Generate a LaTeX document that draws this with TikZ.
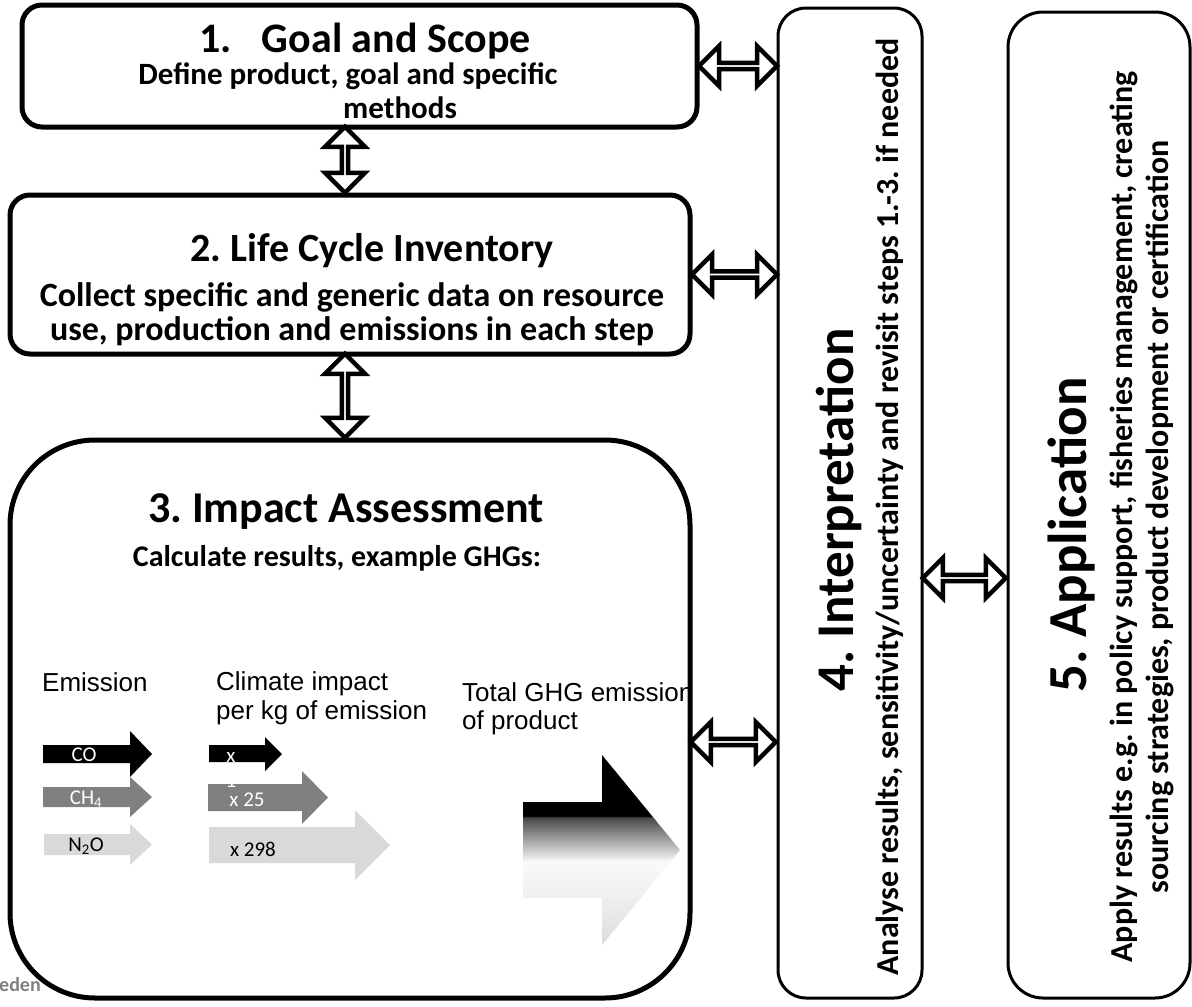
\documentclass[tikz,border=0pt]{standalone}
\usepackage{fontspec}
\setmainfont{Carlito}
\newfontfamily\arialfont{Liberation Sans}
\usetikzlibrary{shapes.arrows}
\frenchspacing

\pgfdeclareverticalshading{ghgshade}{100bp}{color(0bp)=(black!14); color(25bp)=(black!14); color(38bp)=(black!6); color(47bp)=(black!2); color(49bp)=(black!15); color(55bp)=(black!50); color(58.5bp)=(black!72); color(59bp)=(black); color(100bp)=(black)}

\definecolor{midgray}{HTML}{808080}
\definecolor{lightgray}{HTML}{D9D9D9}

\tikzset{
  stagebox/.style={draw, line width=5pt, rounded corners=20pt, inner sep=0pt},
  sidebox/.style={draw, line width=3pt, rounded corners=28pt, inner sep=0pt},
  bigtitle/.style={font=\bfseries\fontsize{40}{44}\selectfont, inner sep=0pt, anchor=base},
  subtitle/.style={font=\bfseries\fontsize{31}{36}\selectfont, inner sep=0pt, anchor=base},
  sidetitle/.style={font=\bfseries\fontsize{53}{58}\selectfont, inner sep=0pt, rotate=90, anchor=base},
  sidetext/.style={font=\bfseries\fontsize{32}{36}\selectfont, inner sep=0pt, rotate=90, anchor=base},
  hlink/.style={double arrow, draw, fill=white, line width=4.5pt, inner sep=0pt,
    minimum width=40pt, double arrow head extend=12pt, double arrow head indent=0pt},
  vlink/.style={hlink, shape border rotate=90},
  plain/.style={font=\arialfont\fontsize{26}{30}\selectfont, inner sep=0pt, anchor=base west},
  tag/.style={font=\fontsize{21}{24}\selectfont, inner sep=0pt},
}

\begin{document}
\begin{tikzpicture}[x=1pt, y=-1pt]
  \useasboundingbox (0,0) rectangle (1192,1007);

  % the five stages
  \node[stagebox, minimum width=675, minimum height=122] (goal) at (359.5,66) {};
  \node[stagebox, minimum width=680, minimum height=159] (inventory) at (350,274.5) {};
  \node[stagebox, rounded corners=85pt, minimum width=680, minimum height=558] (impact) at (350,719) {};
  \node[sidebox, minimum width=144, minimum height=990] (interp) at (850,503) {};
  \node[sidebox, rounded corners=35pt, minimum width=182, minimum height=986] (appl) at (1099,505) {};

  % stage texts
  \node[bigtitle, font=\bfseries\fontsize{42}{46}\selectfont] (goaltitle) at (365,52) {1.\hspace{30pt}Goal and Scope};
  \node[subtitle] (goaltext) at (348,84) {Define product, goal and specific};
  \node[subtitle] (goalmore) at (400,118) {methods};
  \node[bigtitle] (invtitle) at (372,261) {2. Life Cycle Inventory};
  \node[subtitle, font=\bfseries\fontsize{34}{38}\selectfont] (invtexta) at (352,306) {Collect specific and generic data on resource};
  \node[subtitle, font=\bfseries\fontsize{34}{38}\selectfont] (invtextb) at (352,340) {use, production and emissions in each step};
  \node[bigtitle, font=\bfseries\fontsize{44}{48}\selectfont] (imptitle) at (346,522) {3. Impact Assessment};
  \node[subtitle, font=\bfseries\fontsize{30}{34}\selectfont] (imptext) at (337,566) {Calculate results, example GHGs:};
  \node[sidetitle] (inttitle) at (853,510) {4. Interpretation};
  \node[sidetext] (inttext) at (898,507) {Analyse results, sensitivity/uncertainty and revisit steps 1.-3. if needed};
  \node[sidetitle, font=\bfseries\fontsize{55}{60}\selectfont] (apptitle) at (1086,535) {5. Application};
  \node[sidetext] (apptexta) at (1132,517) {Apply results e.g. in policy support, fisheries management, creating};
  \node[sidetext] (apptextb) at (1168,517) {sourcing strategies, product development or certification};

  % GHG example
  \node[plain] (emis) at (42,691) {Emission};
  \node[plain] (climA) at (216,690) {Climate impact};
  \node[plain] (climB) at (216,719) {per kg of emission};
  \begin{scope}
    \clip (impact.north west) rectangle (impact.south east);
    \node[plain] (totA) at (462,701) {Total GHG emission};
    \node[plain] (totB) at (462,729) {of product};
  \end{scope}

  \fill[black] (43,745) -- (130,745) -- (130,731) -- (152,754) -- (130,777) -- (130,763) -- (43,763) -- cycle;
  \fill[midgray] (43,787) -- (130,787) -- (130,777) -- (152,797) -- (130,817) -- (130,807) -- (43,807) -- cycle;
  \fill[lightgray] (44,834) -- (130,834) -- (130,824) -- (152,844.5) -- (130,865) -- (130,855) -- (44,855) -- cycle;
  \node[tag, text=white] (co) at (84,755) {CO};
  \node[tag, text=white] (ch) at (86,799) {CH\textsubscript{4}};
  \node[tag] (no) at (86,846) {N\textsubscript{2}O};

  \fill[black] (209,745) -- (265,745) -- (265,737) -- (282,754) -- (265,771) -- (265,762) -- (209,762) -- cycle;
  \node[tag, text=white] (fx) at (231,757) {x};
  \fill[midgray] (208,784) -- (302,784) -- (302,771) -- (328,797.5) -- (302,824) -- (302,811) -- (208,811) -- cycle;
  \node[tag, text=white] (fone) at (231,781) {1};
  \node[tag, text=white] (f25) at (247,800) {x 25};
  \fill[lightgray] (209,827) -- (355,827) -- (355,810) -- (390,845) -- (355,880) -- (355,863) -- (209,863) -- cycle;
  \node[tag] (f298) at (253,849) {x 298};

  \shade[shading=ghgshade] (523,802) -- (602,802) -- (602,755) -- (680,850) -- (602,945)
    -- (602,898) -- (523,898) -- cycle;

  \node[font=\bfseries\fontsize{20}{22}\selectfont, text=black!50, anchor=base west, inner sep=0pt] (logo) at (-1,991) {eden};

  % links between the stages
  \coordinate (v1) at (345,127);
  \coordinate (v2) at (345,354);
  \coordinate (h3) at (690,742);
  \coordinate (h4) at (922,578);
  \path (v1) -- (v1 |- inventory.north) node[midway, vlink, minimum height=66pt] (l12) {};
  \path (v2) -- (v2 |- impact.north) node[midway, vlink, minimum height=84pt] (l23) {};
  \path (goal.east) -- (goal.east -| interp.west) node[midway, hlink, minimum height=78pt] (l14) {};
  \path (inventory.east) -- (inventory.east -| interp.west) node[midway, hlink, minimum height=85pt] (l24) {};
  \path (h3) -- (h3 -| interp.west) node[midway, hlink, minimum height=85pt] (l34) {};
  \path (h4) -- (h4 -| appl.west) node[midway, hlink, minimum height=83pt] (l45) {};
\end{tikzpicture}
\end{document}
